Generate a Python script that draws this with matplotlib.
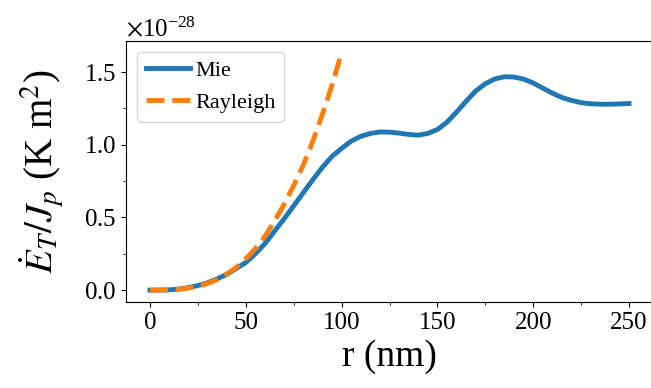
import numpy as np
import matplotlib
matplotlib.use("Agg")
import matplotlib.pyplot as plt
from matplotlib.ticker import AutoMinorLocator, ScalarFormatter

plt.rcParams['font.family'] = ['Liberation Serif', 'DejaVu Serif']
plt.rcParams['mathtext.fontset'] = 'stix'

# values, in units of 1e-28
r_mie = list(range(0, 255, 5))
e_mie = [0.0, 0.0003, 0.002, 0.007, 0.017, 0.032, 0.05, 0.077, 0.108, 0.148,
         0.19, 0.25, 0.32, 0.405, 0.49, 0.58, 0.67, 0.76, 0.845, 0.92,
         0.975, 1.025, 1.058, 1.078, 1.088, 1.087, 1.08, 1.071, 1.066, 1.078,
         1.105, 1.155, 1.225, 1.30, 1.37, 1.42, 1.453, 1.468, 1.466, 1.452,
         1.425, 1.39, 1.355, 1.325, 1.305, 1.29, 1.282, 1.279, 1.279, 1.281,
         1.284]

r_ray = list(range(0, 105, 5))
e_ray = [0.0, 0.0005, 0.002, 0.006, 0.014, 0.027, 0.045, 0.072, 0.11, 0.155,
         0.215, 0.285, 0.37, 0.475, 0.59, 0.72, 0.86, 1.025, 1.21, 1.41,
         1.634]

scale = 1e-28

fig = plt.figure(figsize=(6.51, 3.88), dpi=100)
ax = fig.add_axes([126/651, 1-302/388, (653-126)/651, (302-40.7)/388])

ax.plot(r_mie, np.array(e_mie)*scale, color='#1f77b4', lw=3.5, label='Mie')
ax.plot(r_ray, np.array(e_ray)*scale, color='#ff7f0e', lw=3.5, ls='--', label='Rayleigh')

ax.set_xlim(-12.5, 262.5)
ax.set_ylim(-0.0817*scale, 1.716*scale)
ax.set_xticks([0, 50, 100, 150, 200, 250])
ax.set_yticks(np.array([0.0, 0.5, 1.0, 1.5])*scale)
ax.xaxis.set_minor_locator(AutoMinorLocator(2))
ax.yaxis.set_minor_locator(AutoMinorLocator(2))

fmt = ScalarFormatter(useMathText=True)
fmt.set_powerlimits((0, 0))
ax.yaxis.set_major_formatter(fmt)
ax.yaxis.get_offset_text().set_fontsize(18)

ax.tick_params(labelsize=18)
ax.set_xlabel('r (nm)', fontsize=27)
ax.set_ylabel(r'$\dot{E}_T/J_p$ (K m$^2$)', fontsize=28, labelpad=12)
ax.legend(loc='upper left', fontsize=16, handlelength=2.0, handletextpad=0.2)

fig.savefig('out.png', dpi=100)
